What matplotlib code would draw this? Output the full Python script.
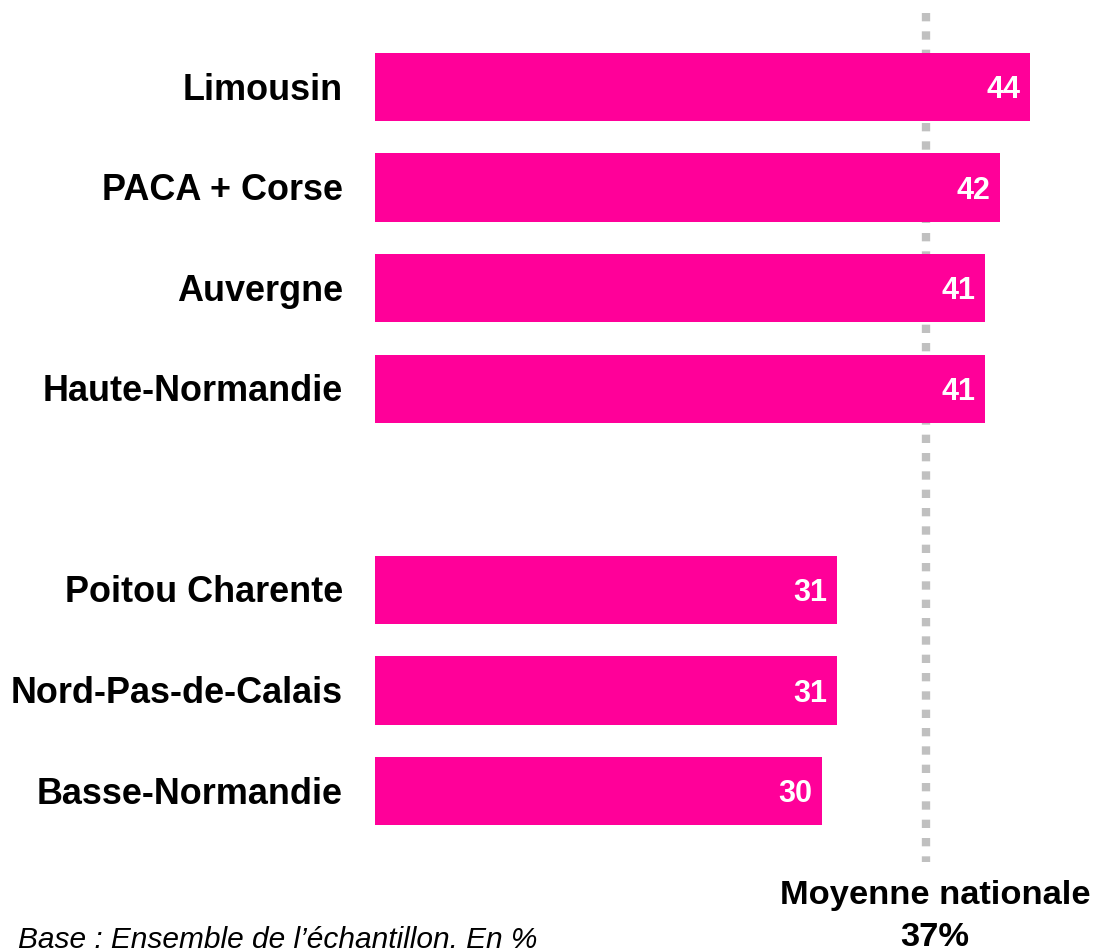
import matplotlib
matplotlib.use("Agg")
import matplotlib.pyplot as plt

# Data
regions = ['Limousin', 'PACA + Corse', 'Auvergne', 'Haute-Normandie',
           'Poitou Charente', 'Nord-Pas-de-Calais', 'Basse-Normandie']
values = [44, 42, 41, 41, 31, 31, 30]
positions = [0, 1, 2, 3, 5, 6, 7]  # gap between the two groups
national_avg = 37
footnote = "Base : Ensemble de l\u2019\u00e9chantillon. En %"

plt.rcParams['font.family'] = ['Liberation Sans', 'DejaVu Sans']

W, H = 1094, 949
fig = plt.figure(figsize=(W / 100, H / 100), dpi=100)

# Axes covering the full figure height, starting where the bars start
px_per_unit = 14.89
left_px = 375
ax = fig.add_axes([left_px / W, 0, 1 - left_px / W, 1])
ax.set_xlim(0, (W - left_px) / px_per_unit)
row_px, first_px = 100.6, 87
ax.set_ylim((H - first_px) / row_px, -first_px / row_px)
ax.axis('off')

# Dotted national average line (behind the bars)
ax.vlines(national_avg, (13 - first_px) / row_px, (862 - first_px) / row_px,
          colors='#c0c0c0', linewidth=6.0, linestyles=(0, (1, 1.2)),
          zorder=1, capstyle='butt')

ax.barh(positions, values, height=0.68, color='#ff0099', zorder=2)

for p, v, name in zip(positions, values, regions):
    ax.text(v - 0.65, p + 11 / row_px, str(v), ha='right', va='baseline',
            color='white', fontsize=22, fontweight='bold', zorder=3)
    ax.text(-32 / px_per_unit, p + 12.5 / row_px, name, ha='right',
            va='baseline', color='black', fontsize=25.9, fontweight='bold',
            clip_on=False)

# National average caption
fig.text(935 / W, 1 - 904 / H, 'Moyenne nationale', ha='center',
         va='baseline', fontsize=24.8, fontweight='bold')
fig.text(935 / W, 1 - 946 / H, f'{national_avg}%', ha='center',
         va='baseline', fontsize=24.8, fontweight='bold')

# Footnote
fig.text(18 / W, 1 - 948 / H, footnote, ha='left', va='baseline',
         fontsize=21.5, fontstyle='italic')

fig.savefig('out.png', dpi=100)
